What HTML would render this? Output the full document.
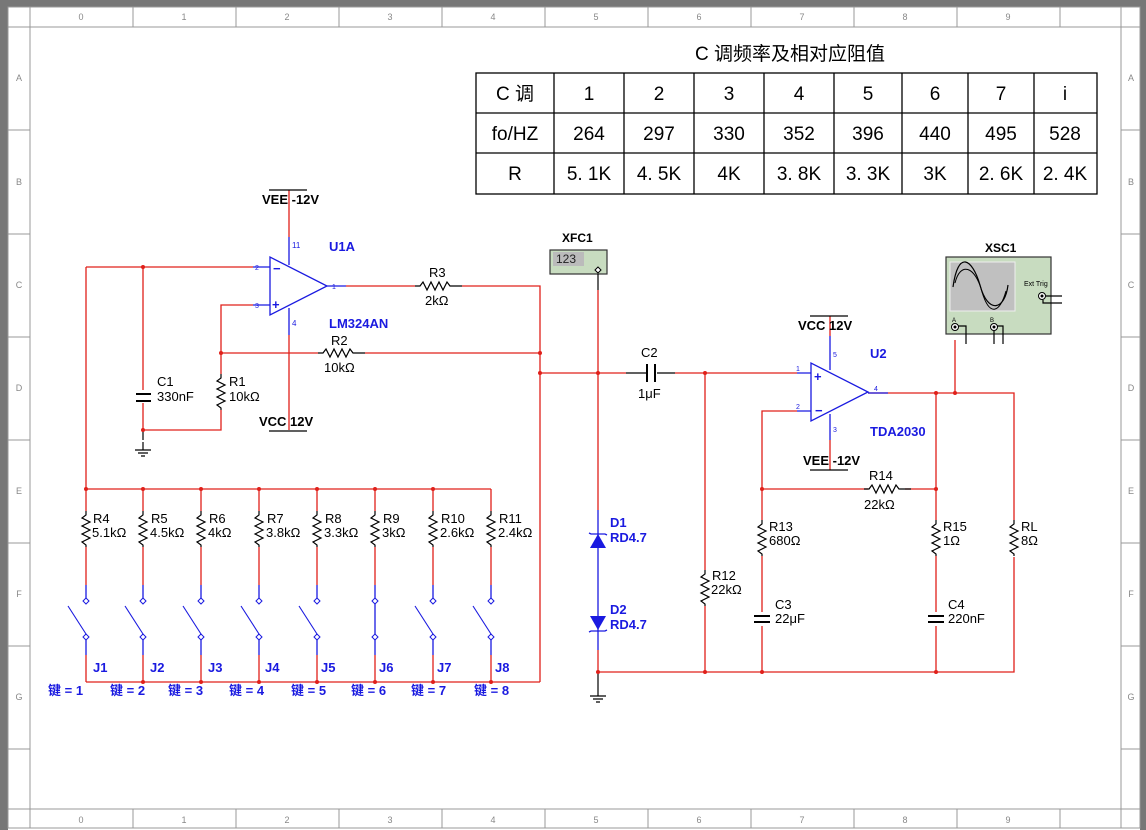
<!DOCTYPE html>
<html><head><meta charset="utf-8"><style>
html,body{margin:0;padding:0;background:#fff}
svg{display:block}
text{font-family:"Liberation Sans","Noto Sans CJK SC",sans-serif}
.r{stroke:#e0201a;stroke-width:1.3;fill:none}
.b{stroke:#1a1ae0;stroke-width:1.3;fill:none}
.k{stroke:#000;stroke-width:1.2;fill:none}
.lb{font-size:13px;fill:#000}
.bl{font-size:13px;fill:#1a1ae0;font-weight:bold}
.g{fill:#888;font-size:9px}
</style></head><body>
<svg width="1146" height="830" viewBox="0 0 1146 830" xmlns="http://www.w3.org/2000/svg">
<defs>
<path id="rv" d="M0,0 L0,4 L-4,7 L4,11 L-4,15 L4,19 L-4,23 L4,27 L-4,31 L0,34 L0,36" stroke="#000" stroke-width="1.2" fill="none"/>
<path id="rh" d="M0,0 L5,0 L8,-4 L12,4 L16,-4 L20,4 L24,-4 L28,4 L32,-4 L35,0 L47,0" stroke="#000" stroke-width="1.2" fill="none"/>
<g id="dot"><circle r="2" fill="#e0201a"/></g>
<g id="sw">
<path d="M0,-16 L0,0" class="b"/>
<path d="M0,-3 L3,0 L0,3 L-3,0Z" fill="#fff" stroke="#1a1ae0" stroke-width="1"/>
<path d="M-18,5 L0,33" stroke="#1a1ae0" stroke-width="1.1"/>
<path d="M0,33 L3,36 L0,39 L-3,36Z" fill="#fff" stroke="#1a1ae0" stroke-width="1"/>
<path d="M0,39 L0,54" class="b"/>
</g>
<g id="gnd"><path d="M0,0 L0,8 M-8,8 L8,8 M-5,11 L5,11 M-2,14 L2,14" stroke="#000" stroke-width="1.2"/></g>
</defs>
<!-- frame -->
<rect x="0" y="0" width="1146" height="830" fill="#fff"/>
<rect x="0" y="0" width="8" height="830" fill="#777"/>
<rect x="0" y="0" width="1146" height="7" fill="#777"/>
<rect x="1140" y="0" width="6" height="830" fill="#777"/>
<g stroke="#999" stroke-width="1" fill="none">
<rect x="8" y="7" width="1132" height="821"/>
<line x1="8" y1="27" x2="1140" y2="27"/>
<line x1="8" y1="809" x2="1140" y2="809"/>
<line x1="30" y1="7" x2="30" y2="828"/>
<line x1="1121" y1="7" x2="1121" y2="828"/>
<path d="M133,7V27M236,7V27M339,7V27M442,7V27M545,7V27M648,7V27M751,7V27M854,7V27M957,7V27M1060,7V27"/>
<path d="M133,809V828M236,809V828M339,809V828M442,809V828M545,809V828M648,809V828M751,809V828M854,809V828M957,809V828M1060,809V828"/>
<path d="M8,130H30M8,234H30M8,337H30M8,440H30M8,543H30M8,646H30M8,749H30"/>
<path d="M1121,130H1140M1121,234H1140M1121,337H1140M1121,440H1140M1121,543H1140M1121,646H1140M1121,749H1140"/>
</g>
<g class="g" text-anchor="middle">
<text x="81" y="20">0</text><text x="184" y="20">1</text><text x="287" y="20">2</text><text x="390" y="20">3</text><text x="493" y="20">4</text><text x="596" y="20">5</text><text x="699" y="20">6</text><text x="802" y="20">7</text><text x="905" y="20">8</text><text x="1008" y="20">9</text>
<text x="81" y="823">0</text><text x="184" y="823">1</text><text x="287" y="823">2</text><text x="390" y="823">3</text><text x="493" y="823">4</text><text x="596" y="823">5</text><text x="699" y="823">6</text><text x="802" y="823">7</text><text x="905" y="823">8</text><text x="1008" y="823">9</text>
<text x="19" y="81">A</text><text x="19" y="185">B</text><text x="19" y="288">C</text><text x="19" y="391">D</text><text x="19" y="494">E</text><text x="19" y="597">F</text><text x="19" y="700">G</text>
<text x="1131" y="81">A</text><text x="1131" y="185">B</text><text x="1131" y="288">C</text><text x="1131" y="391">D</text><text x="1131" y="494">E</text><text x="1131" y="597">F</text><text x="1131" y="700">G</text>
</g>
<!-- table -->
<text x="790" y="60" text-anchor="middle" font-size="19">C 调频率及相对应阻值</text>
<g stroke="#000" stroke-width="1.3" fill="none">
<rect x="476" y="73" width="621" height="121"/>
<path d="M476,113H1097M476,153H1097M554,73V194M624,73V194M694,73V194M764,73V194M834,73V194M902,73V194M968,73V194M1034,73V194"/>
</g>
<g font-size="19" text-anchor="middle">
<text x="515" y="100">C 调</text><text x="589" y="100">1</text><text x="659" y="100">2</text><text x="729" y="100">3</text><text x="799" y="100">4</text><text x="868" y="100">5</text><text x="935" y="100">6</text><text x="1001" y="100">7</text><text x="1065" y="100">i</text>
<text x="515" y="140">fo/HZ</text><text x="589" y="140">264</text><text x="659" y="140">297</text><text x="729" y="140">330</text><text x="799" y="140">352</text><text x="868" y="140">396</text><text x="935" y="140">440</text><text x="1001" y="140">495</text><text x="1065" y="140">528</text>
<text x="515" y="180">R</text><text x="589" y="180">5. 1K</text><text x="659" y="180">4. 5K</text><text x="729" y="180">4K</text><text x="799" y="180">3. 8K</text><text x="868" y="180">3. 3K</text><text x="935" y="180">3K</text><text x="1001" y="180">2. 6K</text><text x="1065" y="180">2. 4K</text>
</g>
<!-- U1A -->
<path d="M270,257 L270,315 L327,286 Z" class="b"/>
<text x="273" y="273" class="bl" font-size="12">−</text><text x="272" y="309" class="bl" font-size="11">+</text>
<path d="M253,267H270M253,305H270M327,286H346M289,237V265M289,308V335" class="b"/>
<path d="M289,190V237M289,335V430" class="r"/>
<path d="M269,190H307M269,431H307" class="k"/>
<text x="262" y="204" class="lb" font-weight="bold">VEE -12V</text>
<text x="259" y="426" class="lb" font-weight="bold">VCC 12V</text>
<text x="292" y="248" fill="#1a1ae0" font-size="8">11</text>
<text x="292" y="326" fill="#1a1ae0" font-size="8">4</text>
<text x="255" y="270" fill="#1a1ae0" font-size="7">2</text><text x="255" y="308" fill="#1a1ae0" font-size="7">3</text>
<text x="332" y="289" fill="#1a1ae0" font-size="7">1</text>
<text x="329" y="251" class="bl">U1A</text>
<text x="329" y="328" class="bl">LM324AN</text>
<!-- left wiring -->
<path d="M86,267H253M143,267V390M143,403V430H221V410M221,374V305H253M221,353H318M365,353H540M346,286H415M462,286H540V682M86,267V489M540,373H598" class="r"/>
<path d="M136,394H151M136,401H151" stroke="#000" stroke-width="2"/>
<path d="M143,430V440" class="k"/><use href="#gnd" x="143" y="442"/>
<use href="#rv" x="221" y="374"/>
<use href="#rh" x="318" y="353"/>
<use href="#rh" x="415" y="286"/>
<text x="157" y="386" class="lb">C1</text><text x="157" y="401" class="lb">330nF</text>
<text x="229" y="386" class="lb">R1</text><text x="229" y="401" class="lb">10kΩ</text>
<text x="331" y="345" class="lb">R2</text><text x="324" y="372" class="lb">10kΩ</text>
<text x="429" y="277" class="lb">R3</text><text x="425" y="305" class="lb">2kΩ</text>
<use href="#dot" x="143" y="267"/><use href="#dot" x="143" y="430"/><use href="#dot" x="221" y="353"/><use href="#dot" x="540" y="353"/><use href="#dot" x="540" y="373"/>
<!-- bank -->
<path d="M86,489H491M86,682H540" class="r"/>
<g class="r">
<path d="M86,489V511M86,547V585M86,655V682"/><path d="M143,489V511M143,547V585M143,655V682"/><path d="M201,489V511M201,547V585M201,655V682"/><path d="M259,489V511M259,547V585M259,655V682"/><path d="M317,489V511M317,547V585M317,655V682"/><path d="M375,489V511M375,547V585M375,655V682"/><path d="M433,489V511M433,547V585M433,655V682"/><path d="M491,489V511M491,547V585M491,655V682"/>
</g>
<use href="#rv" x="86" y="511"/><use href="#rv" x="143" y="511"/><use href="#rv" x="201" y="511"/><use href="#rv" x="259" y="511"/><use href="#rv" x="317" y="511"/><use href="#rv" x="375" y="511"/><use href="#rv" x="433" y="511"/><use href="#rv" x="491" y="511"/>
<use href="#sw" x="86" y="601"/><use href="#sw" x="143" y="601"/><use href="#sw" x="201" y="601"/><use href="#sw" x="259" y="601"/><use href="#sw" x="317" y="601"/>
<g><path d="M375,585V655" class="b"/><path d="M375,598L378,601L375,604L372,601Z M375,634L378,637L375,640L372,637Z" fill="#fff" stroke="#1a1ae0"/></g>
<use href="#sw" x="433" y="601"/><use href="#sw" x="491" y="601"/>
<use href="#dot" x="86" y="489"/><use href="#dot" x="143" y="489"/><use href="#dot" x="201" y="489"/><use href="#dot" x="259" y="489"/><use href="#dot" x="317" y="489"/><use href="#dot" x="375" y="489"/><use href="#dot" x="433" y="489"/>
<use href="#dot" x="143" y="682"/><use href="#dot" x="201" y="682"/><use href="#dot" x="259" y="682"/><use href="#dot" x="317" y="682"/><use href="#dot" x="375" y="682"/><use href="#dot" x="433" y="682"/><use href="#dot" x="491" y="682"/>
<g class="lb">
<text x="93" y="523">R4</text><text x="92" y="537">5.1kΩ</text>
<text x="151" y="523">R5</text><text x="150" y="537">4.5kΩ</text>
<text x="209" y="523">R6</text><text x="208" y="537">4kΩ</text>
<text x="267" y="523">R7</text><text x="266" y="537">3.8kΩ</text>
<text x="325" y="523">R8</text><text x="324" y="537">3.3kΩ</text>
<text x="383" y="523">R9</text><text x="382" y="537">3kΩ</text>
<text x="441" y="523">R10</text><text x="440" y="537">2.6kΩ</text>
<text x="499" y="523">R11</text><text x="498" y="537">2.4kΩ</text>
</g>
<g class="bl">
<text x="93" y="672">J1</text><text x="150" y="672">J2</text><text x="208" y="672">J3</text><text x="265" y="672">J4</text><text x="321" y="672">J5</text><text x="379" y="672">J6</text><text x="437" y="672">J7</text><text x="495" y="672">J8</text>
<text x="48" y="695">键 = 1</text><text x="110" y="695">键 = 2</text><text x="168" y="695">键 = 3</text><text x="229" y="695">键 = 4</text><text x="291" y="695">键 = 5</text><text x="351" y="695">键 = 6</text><text x="411" y="695">键 = 7</text><text x="474" y="695">键 = 8</text>
</g>
<!-- XFC1 -->
<text x="562" y="242" font-size="12" font-family="Liberation Mono" font-weight="bold">XFC1</text>
<rect x="550" y="250" width="57" height="24" fill="#c8dcc0" stroke="#333" stroke-width="1.2"/>
<rect x="553" y="252" width="31" height="14" fill="#bbb"/>
<text x="556" y="263" font-size="12" fill="#222">123</text>
<path d="M598,267L601,270L598,273L595,270Z" fill="#fff" stroke="#000"/>
<path d="M598,274V290" class="k"/>
<path d="M598,290V510M598,650V672" class="r"/>
<path d="M598,510V650" class="b"/>
<path d="M590,548H606L598,534Z" fill="#1a1ae0"/><path d="M589,533L591,534H605L607,535" stroke="#1a1ae0" fill="none" stroke-width="1.3"/>
<path d="M590,616H606L598,630Z" fill="#1a1ae0"/><path d="M589,632L591,631H605L607,630" stroke="#1a1ae0" fill="none" stroke-width="1.3"/>
<text x="610" y="527" class="bl" font-weight="normal">D1</text><text x="610" y="542" class="bl" font-weight="normal">RD4.7</text>
<text x="610" y="614" class="bl" font-weight="normal">D2</text><text x="610" y="629" class="bl" font-weight="normal">RD4.7</text>
<path d="M598,672V688" class="k"/><use href="#gnd" x="598" y="688"/>
<use href="#dot" x="598" y="373"/><use href="#dot" x="598" y="672"/>
<!-- C2 and U2 -->
<path d="M598,373H626" class="r"/><path d="M626,373H646M657,373H675" class="k"/>
<path d="M647,364V382M655,364V382" stroke="#000" stroke-width="2"/>
<path d="M675,373H797M705,373V570M705,606V672M598,672H1014V557M1014,520V393H868" class="r"/>
<use href="#rv" x="705" y="570"/>
<text x="641" y="357" class="lb">C2</text><text x="638" y="398" class="lb">1μF</text>
<text x="712" y="580" class="lb">R12</text><text x="711" y="594" class="lb">22kΩ</text>
<path d="M811,363 L811,421 L868,392 Z" class="b"/>
<text x="814" y="381" class="bl" font-size="12">+</text><text x="815" y="415" class="bl" font-size="12">−</text>
<path d="M797,373H811M797,411H811M868,393H888M830,336V370M830,414V440" class="b"/>
<path d="M830,316V336M830,440V470" class="r"/>
<path d="M810,316H848M810,470H848" class="k"/>
<text x="798" y="330" class="lb" font-weight="bold">VCC 12V</text>
<text x="803" y="465" class="lb" font-weight="bold">VEE -12V</text>
<text x="833" y="357" fill="#1a1ae0" font-size="7">5</text><text x="833" y="432" fill="#1a1ae0" font-size="7">3</text>
<text x="796" y="371" fill="#1a1ae0" font-size="7">1</text><text x="796" y="409" fill="#1a1ae0" font-size="7">2</text>
<text x="874" y="391" fill="#1a1ae0" font-size="7">4</text>
<text x="870" y="358" class="bl">U2</text>
<text x="870" y="436" class="bl">TDA2030</text>
<path d="M797,411H762V520M762,556V612M762,626V672M762,489H868M905,489H936M936,393V520M936,556V612M936,626V672M955,393V340" class="r"/>
<use href="#rh" x="864" y="489"/>
<use href="#rv" x="762" y="520"/><use href="#rv" x="936" y="520"/><use href="#rv" x="1014" y="520"/>
<path d="M754,616H770M754,622H770M928,616H944M928,622H944" stroke="#000" stroke-width="2"/>
<text x="869" y="480" class="lb">R14</text><text x="864" y="509" class="lb">22kΩ</text>
<text x="769" y="531" class="lb">R13</text><text x="769" y="545" class="lb">680Ω</text>
<text x="943" y="531" class="lb">R15</text><text x="943" y="545" class="lb">1Ω</text>
<text x="1021" y="531" class="lb">RL</text><text x="1021" y="545" class="lb">8Ω</text>
<text x="775" y="609" class="lb">C3</text><text x="775" y="623" class="lb">22μF</text>
<text x="948" y="609" class="lb">C4</text><text x="948" y="623" class="lb">220nF</text>
<use href="#dot" x="705" y="373"/><use href="#dot" x="936" y="393"/><use href="#dot" x="955" y="393"/><use href="#dot" x="762" y="489"/><use href="#dot" x="936" y="489"/><use href="#dot" x="705" y="672"/><use href="#dot" x="762" y="672"/><use href="#dot" x="936" y="672"/>
<!-- XSC1 -->
<text x="985" y="252" font-size="12" font-family="Liberation Mono" font-weight="bold">XSC1</text>
<rect x="946" y="257" width="105" height="77" fill="#c8dcc0" stroke="#333" stroke-width="1.2"/>
<rect x="950" y="262" width="65" height="49" fill="#c0c0c0" stroke="#eee"/>
<path d="M953,287 C958,250 972,258 980,285 C988,315 1005,310 1008,285" stroke="#000" fill="none" stroke-width="1.2"/>
<path d="M955,283 C960,262 975,265 982,292 C990,318 1000,312 1006,291" stroke="#000" fill="none" stroke-width="1"/>
<text x="1024" y="286" font-size="7" fill="#000">Ext Trig</text>
<circle cx="1042" cy="296" r="3.5" fill="#fff" stroke="#000"/><circle cx="1042" cy="296" r="1.5" fill="#000"/>
<path d="M1046,296H1062M1043,300V303H1062" class="k"/>
<text x="952" y="322" font-size="6">A</text><text x="990" y="322" font-size="6">B</text>
<circle cx="955" cy="327" r="3.5" fill="#fff" stroke="#000"/><circle cx="955" cy="327" r="1.5" fill="#000"/>
<circle cx="994" cy="327" r="3.5" fill="#fff" stroke="#000"/><circle cx="994" cy="327" r="1.5" fill="#000"/>
<path d="M958,326H966V344M997,326H1003V344M994,331V344" class="k"/>
</svg>
</body></html>
